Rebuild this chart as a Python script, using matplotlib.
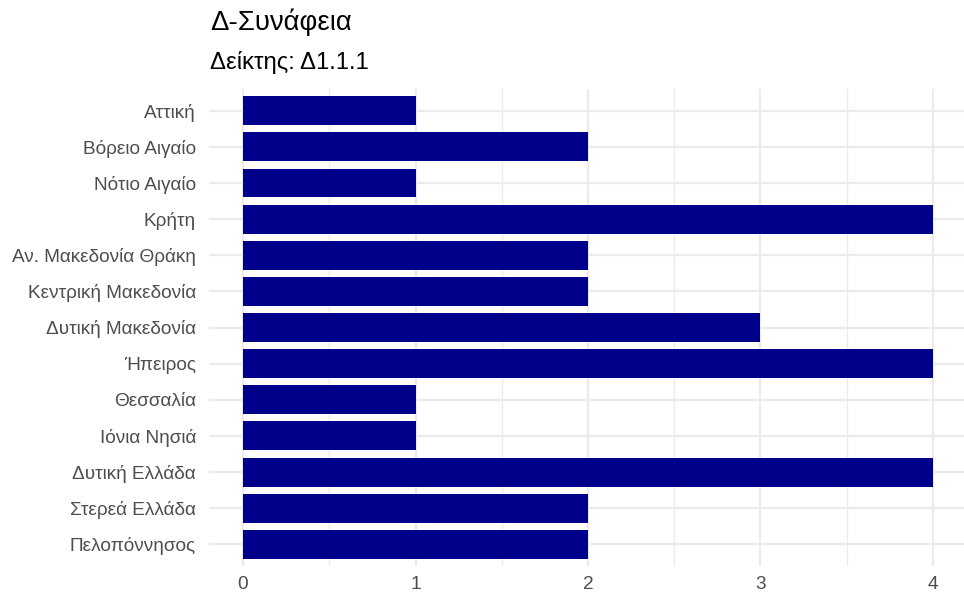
import matplotlib
matplotlib.use("Agg")
import matplotlib.pyplot as plt
from matplotlib.ticker import MultipleLocator

plt.rcParams['font.family'] = ['Liberation Sans', 'DejaVu Sans']

regions = ["Αττική", "Βόρειο Αιγαίο", "Νότιο Αιγαίο", "Κρήτη", "Αν. Μακεδονία Θράκη",
           "Κεντρική Μακεδονία", "Δυτική Μακεδονία", "Ήπειρος", "Θεσσαλία", "Ιόνια Νησιά",
           "Δυτική Ελλάδα", "Στερεά Ελλάδα", "Πελοπόννησος"]
values = [1, 2, 1, 4, 2, 2, 3, 4, 1, 1, 4, 2, 2]
x_ticks = [0, 1, 2, 3, 4]
title = "Δ-Συνάφεια"
subtitle = "Δείκτης: Δ1.1.1"

fig = plt.figure(figsize=(9.64, 5.93), dpi=100)
ax = fig.add_axes([208.5/964, 1-566/593, (964-208.5)/964, (566-89)/593])

ypos = list(range(len(regions)))
ax.barh(ypos, values, height=0.8, color="#00008B", zorder=3)

ax.set_ylim(len(regions) - 0.4, -0.6)
ax.set_xlim(-0.2, (964-243)/172.5)
ax.set_yticks(ypos)
ax.set_yticklabels(regions)
ax.set_xticks(x_ticks)
ax.set_xticklabels([str(t) for t in x_ticks])
ax.xaxis.set_minor_locator(MultipleLocator(0.5))

ax.grid(True, which='major', color="#EBEBEB", linewidth=1.6, zorder=0)
ax.grid(True, which='minor', axis='x', color="#EBEBEB", linewidth=1.0, zorder=0)
for s in ax.spines.values():
    s.set_visible(False)
ax.tick_params(axis='both', which='both', length=0, labelsize=13.7, labelcolor="#4D4D4D")
ax.tick_params(axis='y', pad=9)
ax.tick_params(axis='x', pad=7)

fig.text(210/964, 1-22/593, title, fontsize=19.8, color="black", va='center', ha='left')
fig.text(210/964, 1-62/593, subtitle, fontsize=17.2, color="black", va='center', ha='left')

fig.savefig("out.png", dpi=100)
